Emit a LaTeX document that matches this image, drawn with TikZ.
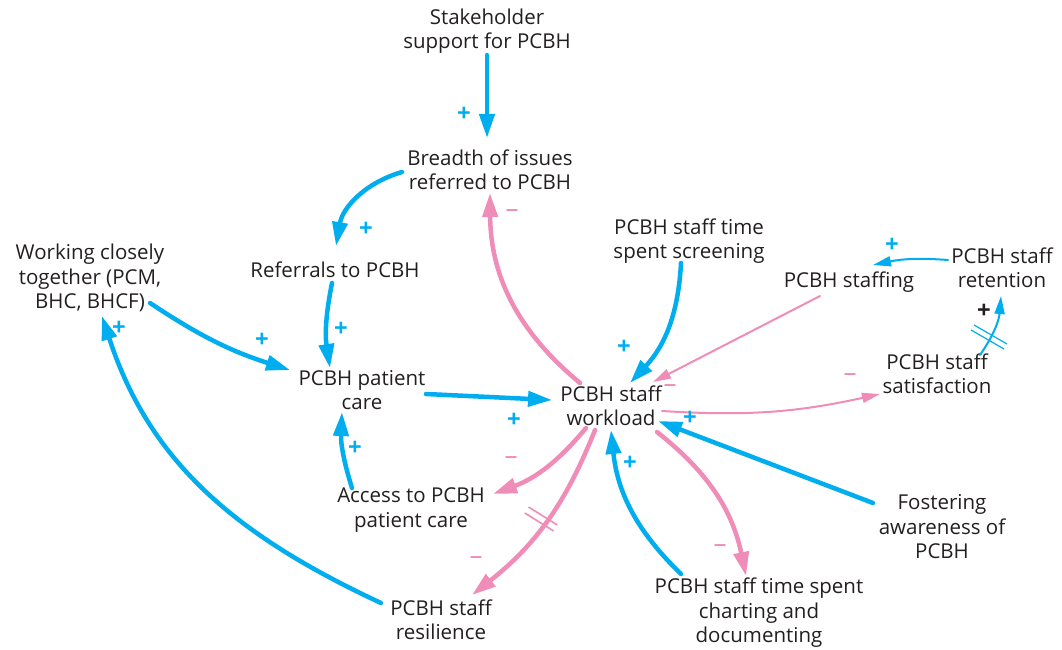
\documentclass[tikz,border=0pt]{standalone}
\usepackage{fontspec}
\setmainfont{Open Sans}
\usetikzlibrary{arrows.meta,calc}
\definecolor{ink}{HTML}{231F20}
\definecolor{posc}{HTML}{00AEEF}
\definecolor{negc}{HTML}{F08CB8}
\begin{document}
\begin{tikzpicture}[x=1pt,y=1pt,
  var/.style={align=center,font=\fontsize{20.5}{24.5}\selectfont,text=ink,inner sep=0pt},
  bigpos/.style={draw=posc,line width=4.5pt,line cap=round,-{Triangle[length=24pt,width=15pt]}},
  bigneg/.style={draw=negc,line width=4.5pt,line cap=round,-{Triangle[length=24pt,width=15pt]}},
  thinpos/.style={draw=posc,line width=2pt,line cap=round,-{Triangle[length=18pt,width=10pt]}},
  thinneg/.style={draw=negc,line width=2pt,line cap=round,-{Triangle[length=18pt,width=10pt]}},
  plus/.style={text=posc,font=\fontsize{24}{24}\selectfont\bfseries,inner sep=0pt},
  minus/.style={text=negc,font=\fontsize{26}{26}\selectfont,inner sep=0pt},
  bars/.style={line width=1.6pt}
]
\useasboundingbox (0,0) rectangle (1062,649);

% variables
\node[var] (stake)    at (487,618) {Stakeholder\\support for PCBH};
\node[var] (breadth)  at (490,479) {Breadth of issues\\referred to PCBH};
\node[var] (work)     at (90,371)  {Working closely\\together (PCM,\\BHC, BHCF)};
\node[var] (refer)    at (335,379) {Referrals to PCBH};
\node[var] (care)     at (362,259) {PCBH patient\\care};
\node[var] (load)     at (611,243) {PCBH staff\\workload};
\node[var] (screen)   at (689,408) {PCBH staff time\\spent screening};
\node[var] (staffing) at (849,367) {PCBH staffing};
\node[var] (retain)   at (1002,381) {PCBH staff\\retention};
\node[var] (satis)    at (937,275) {PCBH staff\\satisfaction};
\node[var] (foster)   at (942,122) {Fostering\\awareness of\\PCBH};
\node[var] (access)   at (411,139) {Access to PCBH\\patient care};
\node[var] (resil)    at (441,29)  {PCBH staff\\resilience};
\node[var] (chart)    at (759,36)  {PCBH staff time spent\\charting and\\documenting};

% positive links
\draw[bigpos] ([shift={(0,-24)}]stake.center) -- ([shift={(-3,32)}]breadth.center);
\draw[bigpos] ([shift={(-88,-2)}]breadth.center) to[bend right=32] ([shift={(1,24)}]refer.center);
\draw[bigpos] ([shift={(-3,-13)}]refer.center) to[bend right=10] ([shift={(-32,22)}]care.center);
\draw[bigpos] ([shift={(60,-25)}]work.center) to[bend right=8] ([shift={(-72,20)}]care.center);
\draw[bigpos] ([shift={(64,-4)}]care.center) -- ([shift={(-59,6)}]load.center);
\draw[bigpos] ([shift={(-59,22)}]access.center) to[bend left=10] ([shift={(-20,-22)}]care.center);
\draw[bigpos] ([shift={(-60,17)}]resil.center) to[out=155,in=-72] ([shift={(12,-38)}]work.center);
\draw[bigpos] ([shift={(-8,-22)}]screen.center) to[bend left=20] ([shift={(19,23)}]load.center);
\draw[bigpos] ([shift={(-69,24)}]foster.center) -- ([shift={(47,-15)}]load.center);
\draw[bigpos] ([shift={(-78,39)}]chart.center) to[bend left=20] ([shift={(0,-24)}]load.center);
\draw[thinpos] ([shift={(-54,8)}]retain.center) to[bend right=8] ([shift={(24,17)}]staffing.center);
\draw[thinpos] ([shift={(43,19)}]satis.center) to[bend right=15] ([shift={(-1,-28)}]retain.center);

% negative links
\draw[bigneg] ([shift={(-31,23)}]load.center) to[bend left=25] ([shift={(0,-23)}]breadth.center);
\draw[bigneg] ([shift={(-25,-22)}]load.center) to[bend left=15] ([shift={(82,16)}]access.center);
\draw[bigneg] ([shift={(-16,-24)}]load.center) to[bend left=15] ([shift={(31,25)}]resil.center);
\draw[bigneg] ([shift={(46,-26)}]load.center) to[bend left=20] ([shift={(-13,37)}]chart.center);
\draw[thinneg] ([shift={(-29,-14)}]staffing.center) -- ([shift={(42,24)}]load.center);
\draw[thinneg] ([shift={(51,-5)}]load.center) to[bend right=8] ([shift={(-57,-20)}]satis.center);

% delay marks
\draw[bars,negc] (528.5,142) -- (557.3,124);
\draw[bars,negc] (524.8,136) -- (553.6,118);
\draw[bars,posc,line width=1.2pt] (974,324) -- (1007,305);
\draw[bars,posc,line width=1.2pt] (971,319) -- (1004,300);

% polarity signs
\node[plus] (p1)  at (464,535) {+};
\node[plus] (p2)  at (366,420) {+};
\node[plus] (p3)  at (341,320) {+};
\node[plus] (p4)  at (262,309) {+};
\node[plus] (p5)  at (119,321) {+};
\node[plus] (p6)  at (355,201) {+};
\node[plus] (p7)  at (514,229) {+};
\node[plus] (p8)  at (624,302) {+};
\node[plus] (p9)  at (892,404) {+};
\node[plus,text=ink] (p10) at (984,338) {+};
\node[plus] (p11) at (690,231) {+};
\node[plus] (p12) at (630,186) {+};
\node[minus] (m1) at (512,435) {–};
\node[minus] (m2) at (670,260) {–};
\node[minus] (m3) at (850,271) {–};
\node[minus] (m4) at (511,188) {–};
\node[minus] (m5) at (476,88)  {–};
\node[minus] (m6) at (720,100) {–};
\end{tikzpicture}
\end{document}
